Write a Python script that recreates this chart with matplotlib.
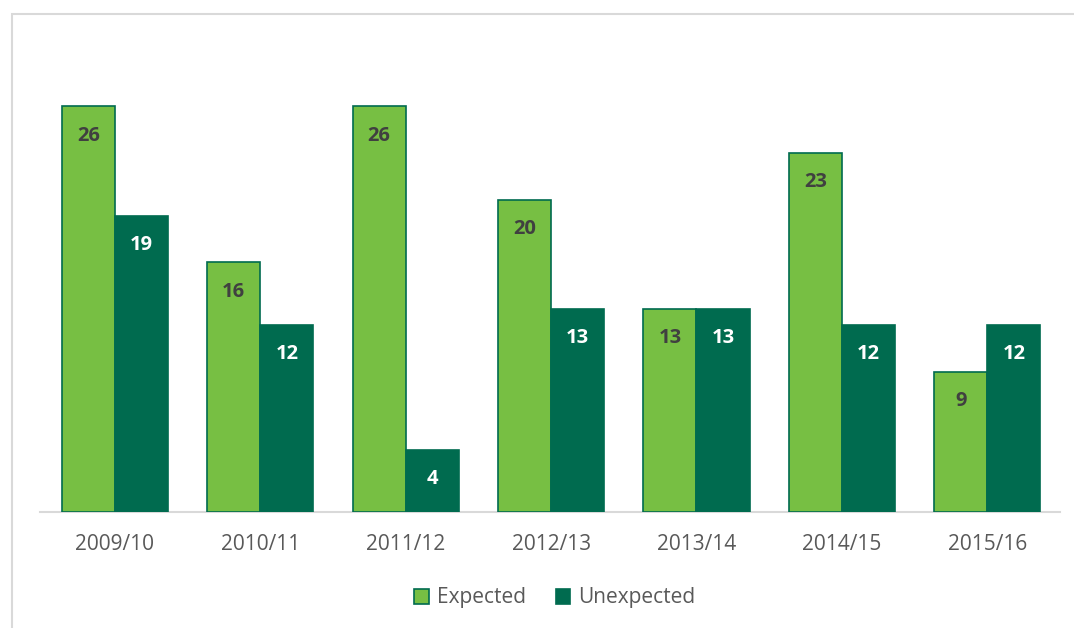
import matplotlib
matplotlib.use("Agg")
import matplotlib.pyplot as plt
from matplotlib.patches import Rectangle
import numpy as np

categories = ["2009/10", "2010/11", "2011/12", "2012/13", "2013/14", "2014/15", "2015/16"]
expected = [26, 16, 26, 20, 13, 23, 9]
unexpected = [19, 12, 4, 13, 13, 12, 12]

c_exp = "#77BF43"
c_unexp = "#006B4F"
text_dark = "#404040"

plt.rcParams['font.family'] = ['Open Sans', 'DejaVu Sans']

fig = plt.figure(figsize=(10.74, 6.28), dpi=100)
ax = fig.add_axes([40/1074, 116/628, 1020/1074, (512-44)/628])

x = np.arange(len(categories))
w = 0.365
b1 = ax.bar(x - w/2, expected, w, color=c_exp, edgecolor=c_unexp, linewidth=1.2, label="Expected")
b2 = ax.bar(x + w/2, unexpected, w, color=c_unexp, edgecolor=c_unexp, linewidth=1.2, label="Unexpected")

for rect, v in zip(b1, expected):
    ax.annotate(str(v), (rect.get_x() + rect.get_width()/2, v), xytext=(0, -21),
                textcoords="offset points", ha="center", va="center",
                fontsize=14.5, fontweight="bold", color=text_dark)
for rect, v in zip(b2, unexpected):
    ax.annotate(str(v), (rect.get_x() + rect.get_width()/2, v), xytext=(0, -21),
                textcoords="offset points", ha="center", va="center",
                fontsize=14.5, fontweight="bold", color="white")

ax.set_xlim(-0.515, 6.5)
ax.set_ylim(0, 30)
ax.set_xticks(x)
ax.set_xticklabels(categories, fontsize=15, color="#595959")
ax.tick_params(axis="x", length=0, pad=16)
ax.set_yticks([])
for s in ["top", "right", "left"]:
    ax.spines[s].set_visible(False)
ax.spines["bottom"].set_color("#D9D9D9")
ax.spines["bottom"].set_linewidth(1.5)
ax.spines["bottom"].set_zorder(0.5)

leg = fig.legend(loc="center", bbox_to_anchor=(555/1074, 1 - 598/628), ncol=2, frameon=False,
                 fontsize=15, handlelength=0.7, handleheight=0.7, columnspacing=1.4, handletextpad=0.4)
for t in leg.get_texts():
    t.set_color("#595959")

fig.patches.append(Rectangle((12/1074, -0.1), 1.2, 1 - 14/628 + 0.1, transform=fig.transFigure,
                             fill=False, edgecolor="#D9D9D9", linewidth=1.5, zorder=0))

fig.savefig("out.png", dpi=100)
